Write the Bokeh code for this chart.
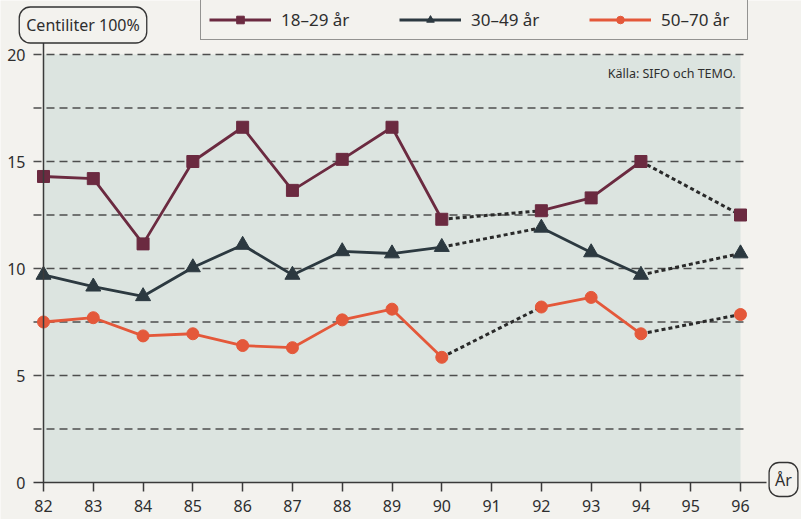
from bokeh.plotting import figure
from bokeh.models import Range1d, FixedTicker, Label, Legend, LegendItem
from bokeh.embed import file_html
from bokeh.resources import INLINE

# ---------------- data ----------------
years = [82, 83, 84, 85, 86, 87, 88, 89, 90, 92, 93, 94, 96]
y_18_29 = [14.3, 14.2, 11.15, 15.0, 16.6, 13.65, 15.1, 16.6, 12.3, 12.7, 13.3, 15.0, 12.5]
y_30_49 = [9.7, 9.15, 8.7, 10.05, 11.1, 9.7, 10.8, 10.7, 11.0, 11.9, 10.75, 9.7, 10.7]
y_50_70 = [7.5, 7.7, 6.85, 6.95, 6.4, 6.3, 7.6, 8.1, 5.85, 8.2, 8.65, 6.95, 7.85]
series_names = ["18\u201329 år", "30\u201349 år", "50\u201370 år"]
x_ticks = list(range(82, 97))
y_ticks = [0, 5, 10, 15, 20]
grid_levels = [2.5, 5, 7.5, 10, 12.5, 15, 17.5, 20]

# ---------------- styling ----------------
W, H = 801, 519
PAGE_BG = "#f3f2ee"
SHADE = "#dce4e0"
FONT = "Noto Sans"
TXT = "#2e2e2e"
AX = "#3a3a3a"
styles = [
    dict(color="#6b2a40", marker="square", size=12),
    dict(color="#2c3940", marker="triangle", size=15),
    dict(color="#e4583a", marker="circle", size=12),
]

PXY = 697 / 14.0   # px per year  (82 -> x 43, 96 -> x 740)
PXV = 428 / 20.0   # px per unit  (0 -> y 482, 20 -> y 54)

p = figure(width=W, height=H, output_backend="svg", toolbar_location=None,
           x_range=Range1d(82 - 43 / PXY, 96 + (W - 740) / PXY),
           y_range=Range1d(-(H - 482) / PXV, 20 + 54 / PXV),
           min_border=0, min_border_left=0, min_border_right=0,
           min_border_top=0, min_border_bottom=0)
p.background_fill_color = PAGE_BG
p.border_fill_color = PAGE_BG
p.outline_line_color = None
p.xgrid.visible = False
p.ygrid.visible = False

# shaded plot area
p.quad(left=[years[0]], right=[years[-1]], bottom=[0], top=[max(y_ticks)],
       fill_color=SHADE, line_color=None)

# dashed grid lines
n = len(grid_levels)
p.segment(x0=[82 - 10 / PXY] * n, x1=[96 + 3 / PXY] * n,
          y0=grid_levels, y1=grid_levels, line_color="#4d4d4d", line_width=1.3,
          line_dash="8 5")

# axes drawn at fixed data locations inside the frame
xa = p.xaxis[0]
xa.fixed_location = 0
xa.bounds = (82 - 10 / PXY, 96 + 26 / PXY)
xa.ticker = FixedTicker(ticks=x_ticks)
xa.axis_line_color = AX
xa.axis_line_width = 1.5
xa.major_tick_line_color = AX
xa.major_tick_line_width = 1.5
xa.major_tick_out = 9
xa.major_tick_in = 0
xa.minor_tick_line_color = None
xa.major_label_standoff = 8
xa.major_label_text_font = FONT
xa.major_label_text_font_size = "16px"
xa.major_label_text_color = TXT

ya = p.yaxis[0]
ya.fixed_location = 82
ya.bounds = (0, 20 + 14 / PXV)
ya.ticker = FixedTicker(ticks=y_ticks)
ya.axis_line_color = AX
ya.axis_line_width = 1.5
ya.major_tick_line_color = None
ya.minor_tick_line_color = None
ya.major_tick_out = 0
ya.major_tick_in = 0
ya.major_label_standoff = 18
ya.major_label_text_font = FONT
ya.major_label_text_font_size = "16px"
ya.major_label_text_color = TXT

# series
all_series = [y_18_29, y_30_49, y_50_70]
items = []
for name, vals, st in zip(series_names, all_series, styles):
    lookup = dict(zip(years, vals))
    ys = [lookup.get(x, float("nan")) for x in x_ticks]
    gx0, gx1, gy0, gy1 = [], [], [], []
    for i in range(len(years) - 1):
        if years[i + 1] - years[i] > 1:
            gx0.append(years[i]); gx1.append(years[i + 1])
            gy0.append(vals[i]); gy1.append(vals[i + 1])
    p.segment(x0=gx0, x1=gx1, y0=gy0, y1=gy1, line_color="#2a2a2a",
              line_width=3, line_dash="4 3")
    lr = p.line(x=x_ticks, y=ys, line_color=st["color"], line_width=2.8)
    sr = p.scatter(x=years, y=vals, marker=st["marker"], size=st["size"],
                   fill_color=st["color"], line_color=st["color"])
    items.append(LegendItem(label=name, renderers=[lr, sr]))

legend = Legend(items=items, orientation="horizontal", location=(200, H - 40),
                glyph_width=62, glyph_height=19, label_height=19,
                label_standoff=10, label_width=78, spacing=40, padding=8,
                margin=0, border_line_color="#333333", border_line_width=1.3,
                background_fill_color=PAGE_BG, background_fill_alpha=1.0,
                label_text_font=FONT, label_text_font_size="17px",
                label_text_color=TXT)
p.add_layout(legend)

# unit label (top-left)
p.add_layout(Label(x=82 + (82.5 - 43) / PXY, y=20 + (54 - 24.5) / PXV,
                   text="Centiliter 100%", text_align="center",
                   text_baseline="middle", text_font=FONT,
                   text_font_size="16px", text_color=TXT,
                   border_line_color="#333333", border_line_width=1.3,
                   background_fill_color=PAGE_BG, background_fill_alpha=1.0,
                   padding=7, border_radius=11))

# source note
p.add_layout(Label(x=96 - 5 / PXY, y=20 - 19 / PXV, text="Källa: SIFO och TEMO.",
                   text_align="right", text_baseline="middle", text_font=FONT,
                   text_font_size="12.5px", text_color=TXT))

# x unit label (bottom-right)
p.add_layout(Label(x=96 + 43 / PXY, y=3 / PXV, text="År",
                   text_align="center", text_baseline="middle", text_font=FONT,
                   text_font_size="16px", text_color=TXT,
                   border_line_color="#333333", border_line_width=1.3,
                   background_fill_color=PAGE_BG, background_fill_alpha=1.0,
                   padding=6, border_radius=10))

open("out.html", "w").write(file_html(p, INLINE))
